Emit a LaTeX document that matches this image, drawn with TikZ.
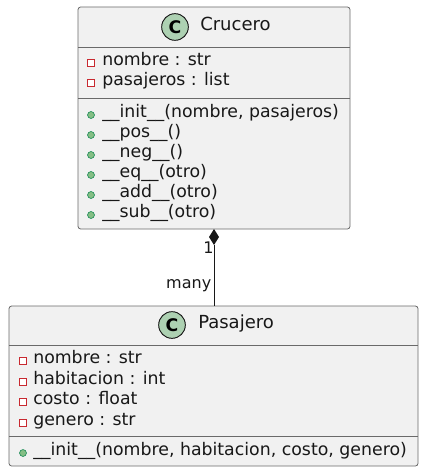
\documentclass[tikz,border=0pt]{standalone}
\usepackage{fontspec}
\setmainfont{DejaVu Sans}
\definecolor{boxfill}{HTML}{F1F1F1}
\definecolor{boxline}{HTML}{6A6A6A}
\definecolor{darkline}{HTML}{181818}
\definecolor{cfill}{HTML}{ADD1B2}
\definecolor{privred}{HTML}{C82930}
\definecolor{pubfill}{HTML}{84BE84}
\definecolor{publine}{HTML}{038048}
\begin{document}
\begin{tikzpicture}[x=0.75pt,y=-0.75pt,
  classbox/.style={draw=boxline,fill=boxfill,line width=0.6pt,rounded corners=2pt},
  sep/.style={draw=boxline,line width=0.6pt},
  member/.style={anchor=mid west,inner sep=0pt,text=darkline,font=\fontsize{13}{15}\selectfont},
  title/.style={anchor=mid west,inner sep=0pt,text=darkline,font=\fontsize{13.5}{16}\selectfont},
  cicon/.style={circle,draw=darkline,fill=cfill,line width=0.7pt,minimum size=20pt,inner sep=0pt,font=\fontsize{13}{15}\selectfont\bfseries},
  priv/.style={rectangle,draw=privred,fill=white,line width=0.6pt,minimum size=5.2pt,inner sep=0pt},
  pub/.style={circle,draw=publine,fill=pubfill,line width=0.4pt,minimum size=5.2pt,inner sep=0pt},
  lbl/.style={inner sep=0pt,text=darkline,font=\fontsize{12}{14}\selectfont}]
\useasboundingbox (0,0) rectangle (425,470);
% Crucero
\path[classbox] (78,7) rectangle (350,229);
\draw[sep] (78,47) -- (350,47);
\draw[sep] (78,98) -- (350,98);
\node[cicon] (cc) at (175,27) {C};
\node[title] (ct) at (200,27) {Crucero};
\node[priv] (ca1) at (91,63) {};
\node[member] (ca1t) at (102,62) {nombre : str};
\node[priv] (ca2) at (91,83) {};
\node[member] (ca2t) at (102,82) {pasajeros : list};
\foreach \y/\t [count=\i] in {114/\_\_init\_\_(nombre{,} pasajeros),134/\_\_pos\_\_(),154/\_\_neg\_\_(),174/\_\_eq\_\_(otro),194/\_\_add\_\_(otro),214/\_\_sub\_\_(otro)}{
  \node[pub] (cm\i) at (91,\y+1) {};
  \node[member] (cm\i t) at (102,\y) {\t};
}
% Pasajero
\path[classbox] (9,306) rectangle (418,466);
\draw[sep] (9,345) -- (418,345);
\draw[sep] (9,436) -- (418,436);
\node[cicon] (pc) at (172,325) {C};
\node[title] (pt) at (198,325) {Pasajero};
\foreach \y/\t [count=\i] in {360/nombre : str,380.5/habitacion : int,401/costo : float,421.5/genero : str}{
  \node[priv] (pa\i) at (23,\y+1) {};
  \node[member] (pa\i t) at (33,\y) {\t};
}
\node[pub] (pm1) at (23,453) {};
\node[member] (pm1t) at (33,452) {\_\_init\_\_(nombre, habitacion, costo, genero)};
\coordinate (ptop) at (214,306);
% composition
\coordinate (dtop) at (214,229);
\coordinate (dbot) at (214,245);
\fill[darkline] (dtop) -- (219,237) -- (dbot) -- (209,237) -- cycle;
\draw[darkline,line width=0.7pt] (dbot) -- (ptop);
\node[lbl,anchor=center] (one) at (208.5,248) {1};
\node[lbl,anchor=mid east] (many) at (211.5,285) {many};
\end{tikzpicture}
\end{document}
